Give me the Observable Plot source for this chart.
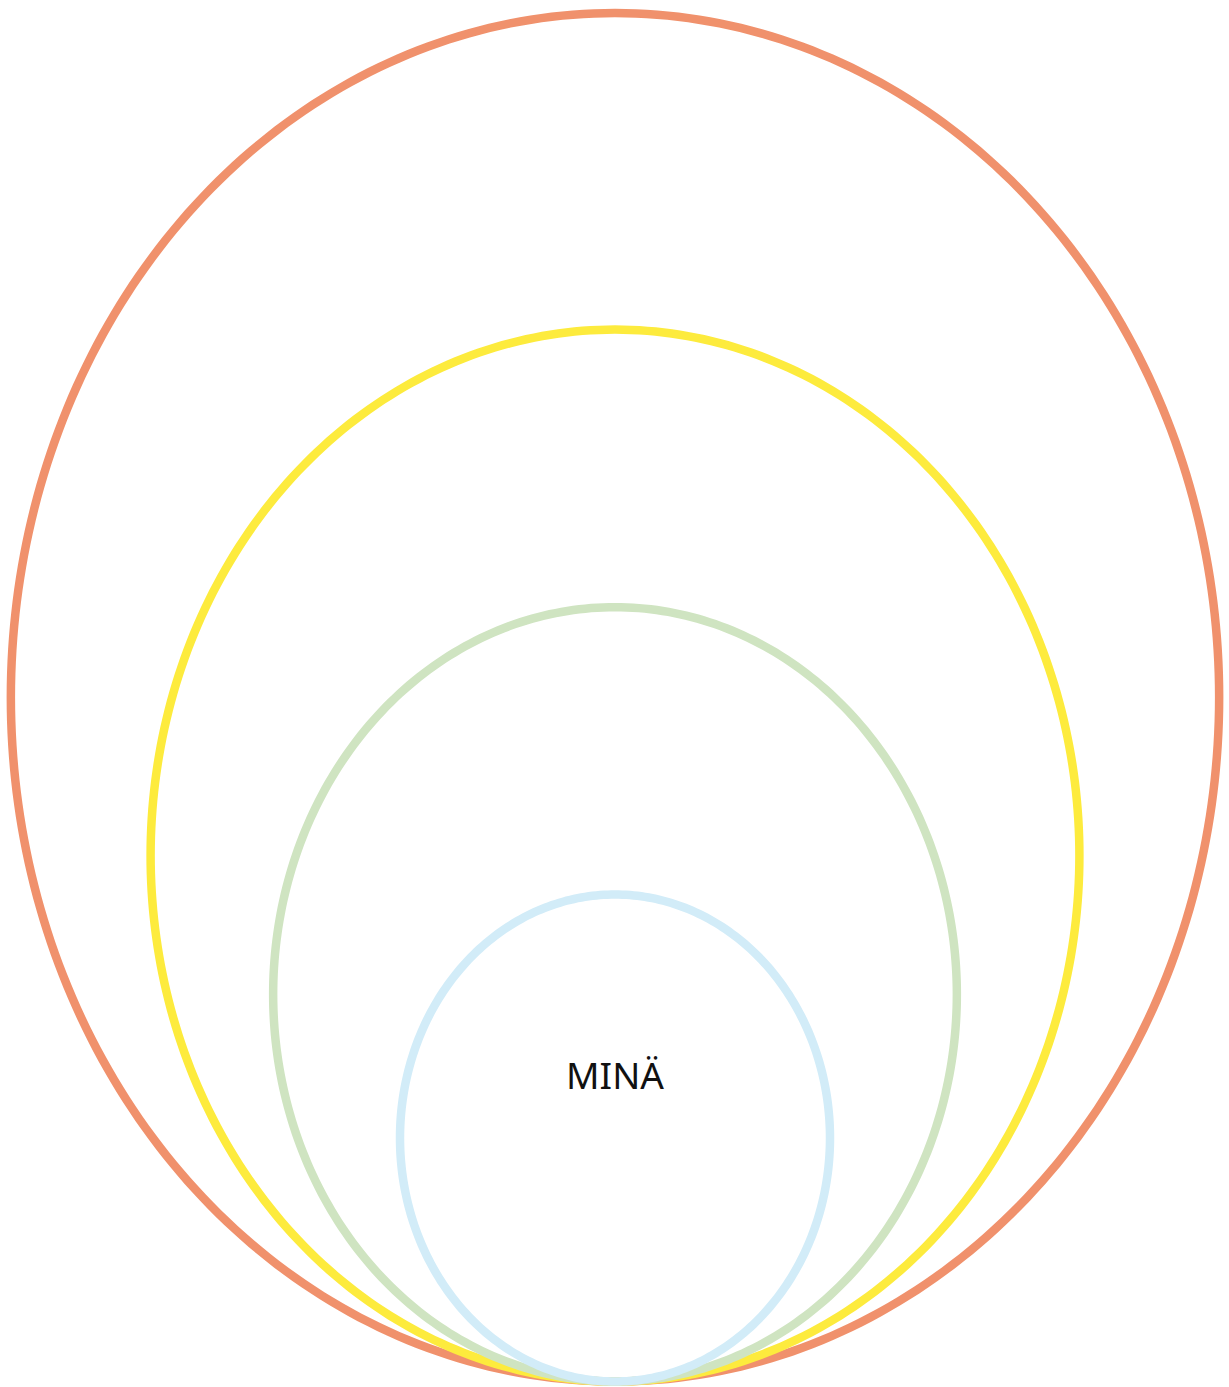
<!DOCTYPE html>
<html>
<head>
<meta charset="utf-8">
<script src="https://cdn.jsdelivr.net/npm/d3@7"></script>
<script src="https://cdn.jsdelivr.net/npm/@observablehq/plot@0.6"></script>
<style>
  html, body { margin: 0; padding: 0; background: #fff; }
  #chart svg { display: block; }
</style>
</head>
<body>
<div id="chart"></div>
<script>
// Nested rings, all tangent at the bottom (radius in data units), outermost first
const ringNames  = ["ring4", "ring3", "ring2", "MINÄ"];
const ringRadius = [2.81, 2.16, 1.59, 1.0];
const ringColors = ["#f0916c", "#fdeb3d", "#cfe4c1", "#d2ecf8"];
const labelText  = ["MINÄ"];
const labelY     = [1.25];

// Outline points for each ring (circle in data space; unequal scales make it an ellipse)
const outline = [];
ringNames.forEach((name, i) => {
  const r = ringRadius[i];
  for (let k = 0; k <= 360; k++) {
    const a = (k / 360) * 2 * Math.PI;
    outline.push({ring: name, x: r * Math.sin(a), y: r - r * Math.cos(a)});
  }
});

const W = 1229, H = 1387;
const pxX = 215, pxY = 243.5, bottomPx = 1381, cxPx = 614.5;

const chart = Plot.plot({
  width: W,
  height: H,
  margin: 0,
  x: {domain: [-cxPx / pxX, (W - cxPx) / pxX], axis: null},
  y: {domain: [-(H - bottomPx) / pxY, bottomPx / pxY], axis: null},
  color: {domain: ringNames, range: ringColors},
  marks: [
    Plot.line(outline, {
      x: "x", y: "y", z: "ring", stroke: "ring",
      strokeWidth: 8.5, curve: "linear-closed"
    }),
    Plot.text(labelText, {
      x: () => 0, y: (d, i) => labelY[i], text: d => d,
      fontSize: 37, fill: "#111", fontFamily: "Noto Sans",
      fontWeight: 400
    })
  ]
});

document.getElementById("chart").append(chart);
</script>
</body>
</html>
